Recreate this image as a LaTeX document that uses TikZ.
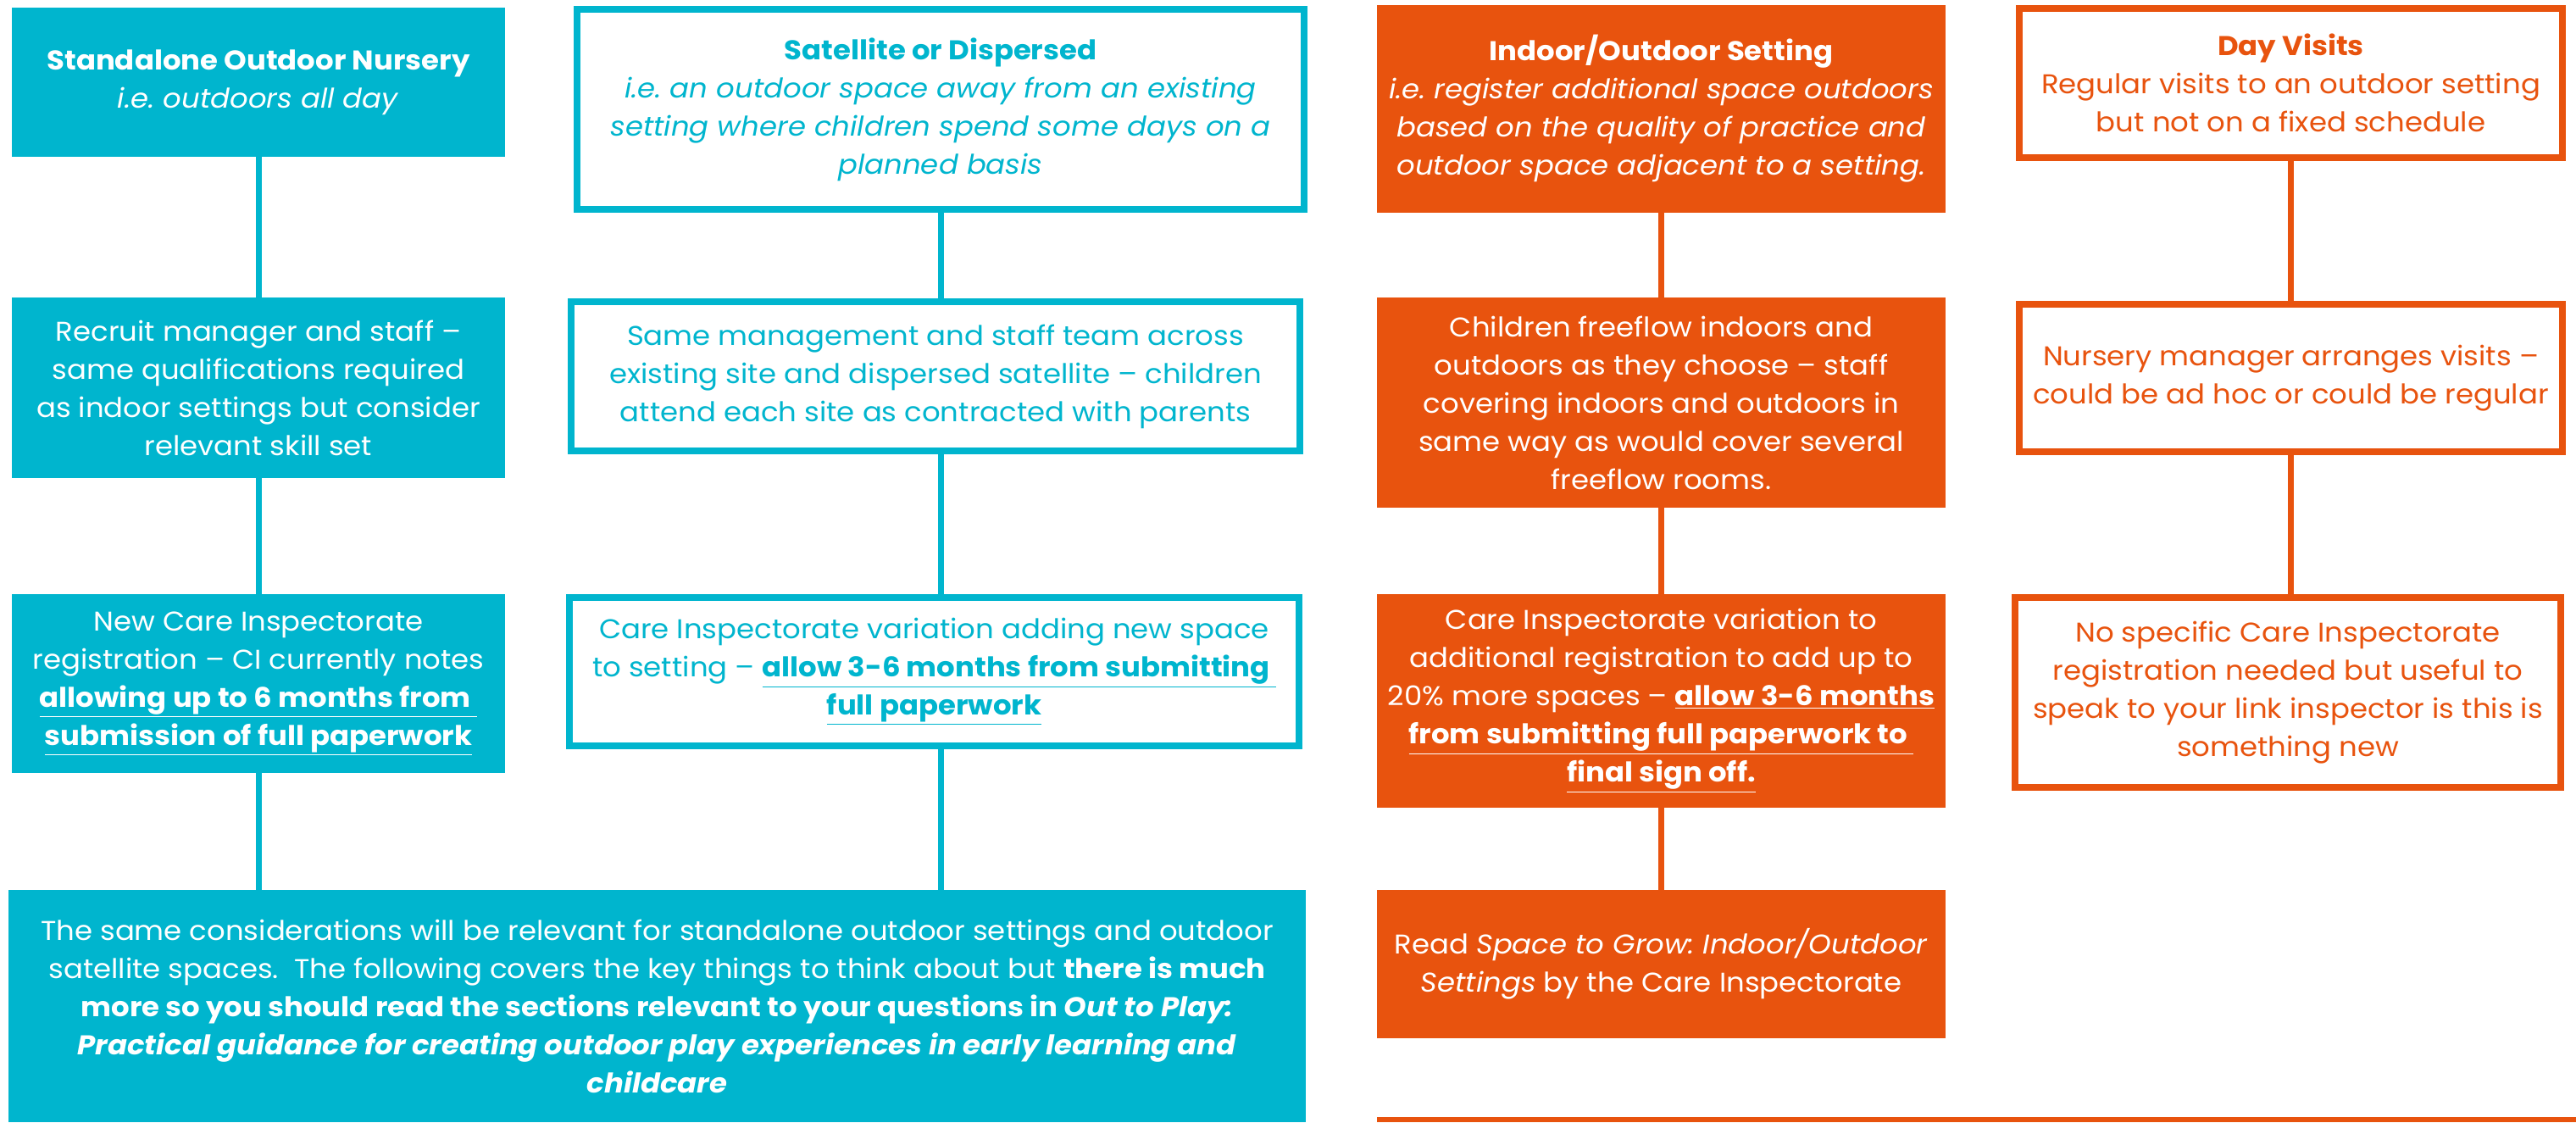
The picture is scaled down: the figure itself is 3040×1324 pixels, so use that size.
\documentclass[tikz,border=0pt]{standalone}
\usepackage{fontspec}
\setmainfont{Poppins}[FakeStretch=1.06]
\definecolor{cteal}{RGB}{0,181,206}
\definecolor{corange}{RGB}{232,83,14}
\newcommand\myfs{\fontsize{16}{22.5}\selectfont}
\newcommand\ul[1]{\underline{#1}}
\frenchspacing
\tikzset{
  tfill/.style={fill=cteal, text=white, inner sep=0pt, align=center, font=\myfs},
  ofill/.style={fill=corange, text=white, inner sep=0pt, align=center, font=\myfs},
  tframe/.style={draw=cteal, line width=4pt, fill=white, text=cteal, inner sep=0pt, align=center, font=\myfs},
  oframe/.style={draw=corange, line width=4pt, fill=white, text=corange, inner sep=0pt, align=center, font=\myfs},
  tline/.style={draw=cteal, line width=3.5pt},
  oline/.style={draw=corange, line width=3.5pt},
}
\begin{document}
\begin{tikzpicture}[x=0.5pt,y=-0.5pt]
\useasboundingbox (0,0) rectangle (3040,1324);
% column A
\node[tfill, minimum width=291pt, minimum height=88pt] (a1) at (305,97)
 {\textbf{Standalone Outdoor Nursery}\\\textit{i.e. outdoors all day}};
\node[tfill, minimum width=291pt, minimum height=106.5pt] (a2) at (305,457.5)
 {Recruit manager and staff --\\same qualifications required\\as indoor settings but consider\\relevant skill set};
\node[tfill, minimum width=291pt, minimum height=105.5pt] (a3) at (305,806.5)
 {New Care Inspectorate\\registration -- CI currently notes\\\ul{\textbf{allowing up to 6 months from }}\\\ul{\textbf{submission of full paperwork}}};
\node[tfill, minimum width=765.5pt, minimum height=137pt] (ab) at (775.5,1187)
 {The same considerations will be relevant for standalone outdoor settings and outdoor\\
  satellite spaces.\ \ The following covers the key things to think about but \textbf{there is much}\\
  \textbf{more so you should read the sections relevant to your questions in \textit{Out to Play:}}\\
  \textbf{\textit{Practical guidance for creating outdoor play experiences in early learning and}}\\
  \textbf{\textit{childcare}}};
% column B
\node[tframe, minimum width=429pt, minimum height=118pt] (b1) at (1110,129)
 {\textbf{Satellite or Dispersed}\\\textit{i.e. an outdoor space away from an existing}\\\textit{setting where children spend some days on a}\\\textit{planned basis}};
\node[tframe, minimum width=430pt, minimum height=88pt] (b2) at (1104,444)
 {Same management and staff team across\\existing site and dispersed satellite -- children\\attend each site as contracted with parents};
\node[tframe, minimum width=430.5pt, minimum height=87.5pt] (b3) at (1102.5,792.5)
 {Care Inspectorate variation adding new space\\to setting -- \ul{\textbf{allow 3-6 months from submitting }}\\\ul{\textbf{full paperwork}}};
% column C
\node[ofill, minimum width=335.5pt, minimum height=122.5pt] (c1) at (1960.5,128.5)
 {\textbf{Indoor/Outdoor Setting}\\\textit{i.e. register additional space outdoors}\\\textit{based on the quality of practice and}\\\textit{outdoor space adjacent to a setting.}};
\node[ofill, minimum width=335.5pt, minimum height=124pt] (c2) at (1960.5,475)
 {Children freeflow indoors and\\outdoors as they choose -- staff\\covering indoors and outdoors in\\same way as would cover several\\freeflow rooms.};
\node[ofill, minimum width=335.5pt, minimum height=126pt] (c3) at (1960.5,827)
 {Care Inspectorate variation to\\additional registration to add up to\\20\% more spaces -- \ul{\textbf{allow 3-6 months}}\\\ul{\textbf{from submitting full paperwork to }}\\\ul{\textbf{final sign off.}}};
\node[ofill, minimum width=335.5pt, minimum height=87.5pt] (c4) at (1960.5,1137.5)
 {Read \textit{Space to Grow: Indoor/Outdoor}\\\textit{Settings} by the Care Inspectorate};
\node[fill=corange, inner sep=0pt, minimum width=707.5pt, minimum height=3pt] (cbar) at (2332.5,1321) {};
% column D
\node[oframe, minimum width=320.5pt, minimum height=88pt] (d1) at (2703.5,98)
 {\textbf{Day Visits}\\Regular visits to an outdoor setting\\but not on a fixed schedule};
\node[oframe, minimum width=320.5pt, minimum height=87pt] (d2) at (2703.5,446)
 {Nursery manager arranges visits --\\could be ad hoc or could be regular};
\node[oframe, minimum width=322pt, minimum height=112pt] (d3) at (2700,817)
 {No specific Care Inspectorate\\registration needed but useful to\\speak to your link inspector is this is\\something new};
% connectors
\draw[tline] (a1.south) -- (a2.north);
\draw[tline] (a2.south) -- (a3.north);
\draw[tline] (a3.south) -- (a3.south |- ab.north);
\draw[tline] (b1.south) -- (b1.south |- b2.north);
\draw[tline] (b2.south -| b1.south) -- (b1.south |- b3.north);
\draw[tline] (b3.south -| b1.south) -- (b1.south |- ab.north);
\draw[oline] (c1.south) -- (c2.north);
\draw[oline] (c2.south) -- (c3.north);
\draw[oline] (c3.south) -- (c4.north);
\draw[oline] (d1.south) -- (d1.south |- d2.north);
\draw[oline] (d2.south -| d1.south) -- (d1.south |- d3.north);
\end{tikzpicture}
\end{document}
